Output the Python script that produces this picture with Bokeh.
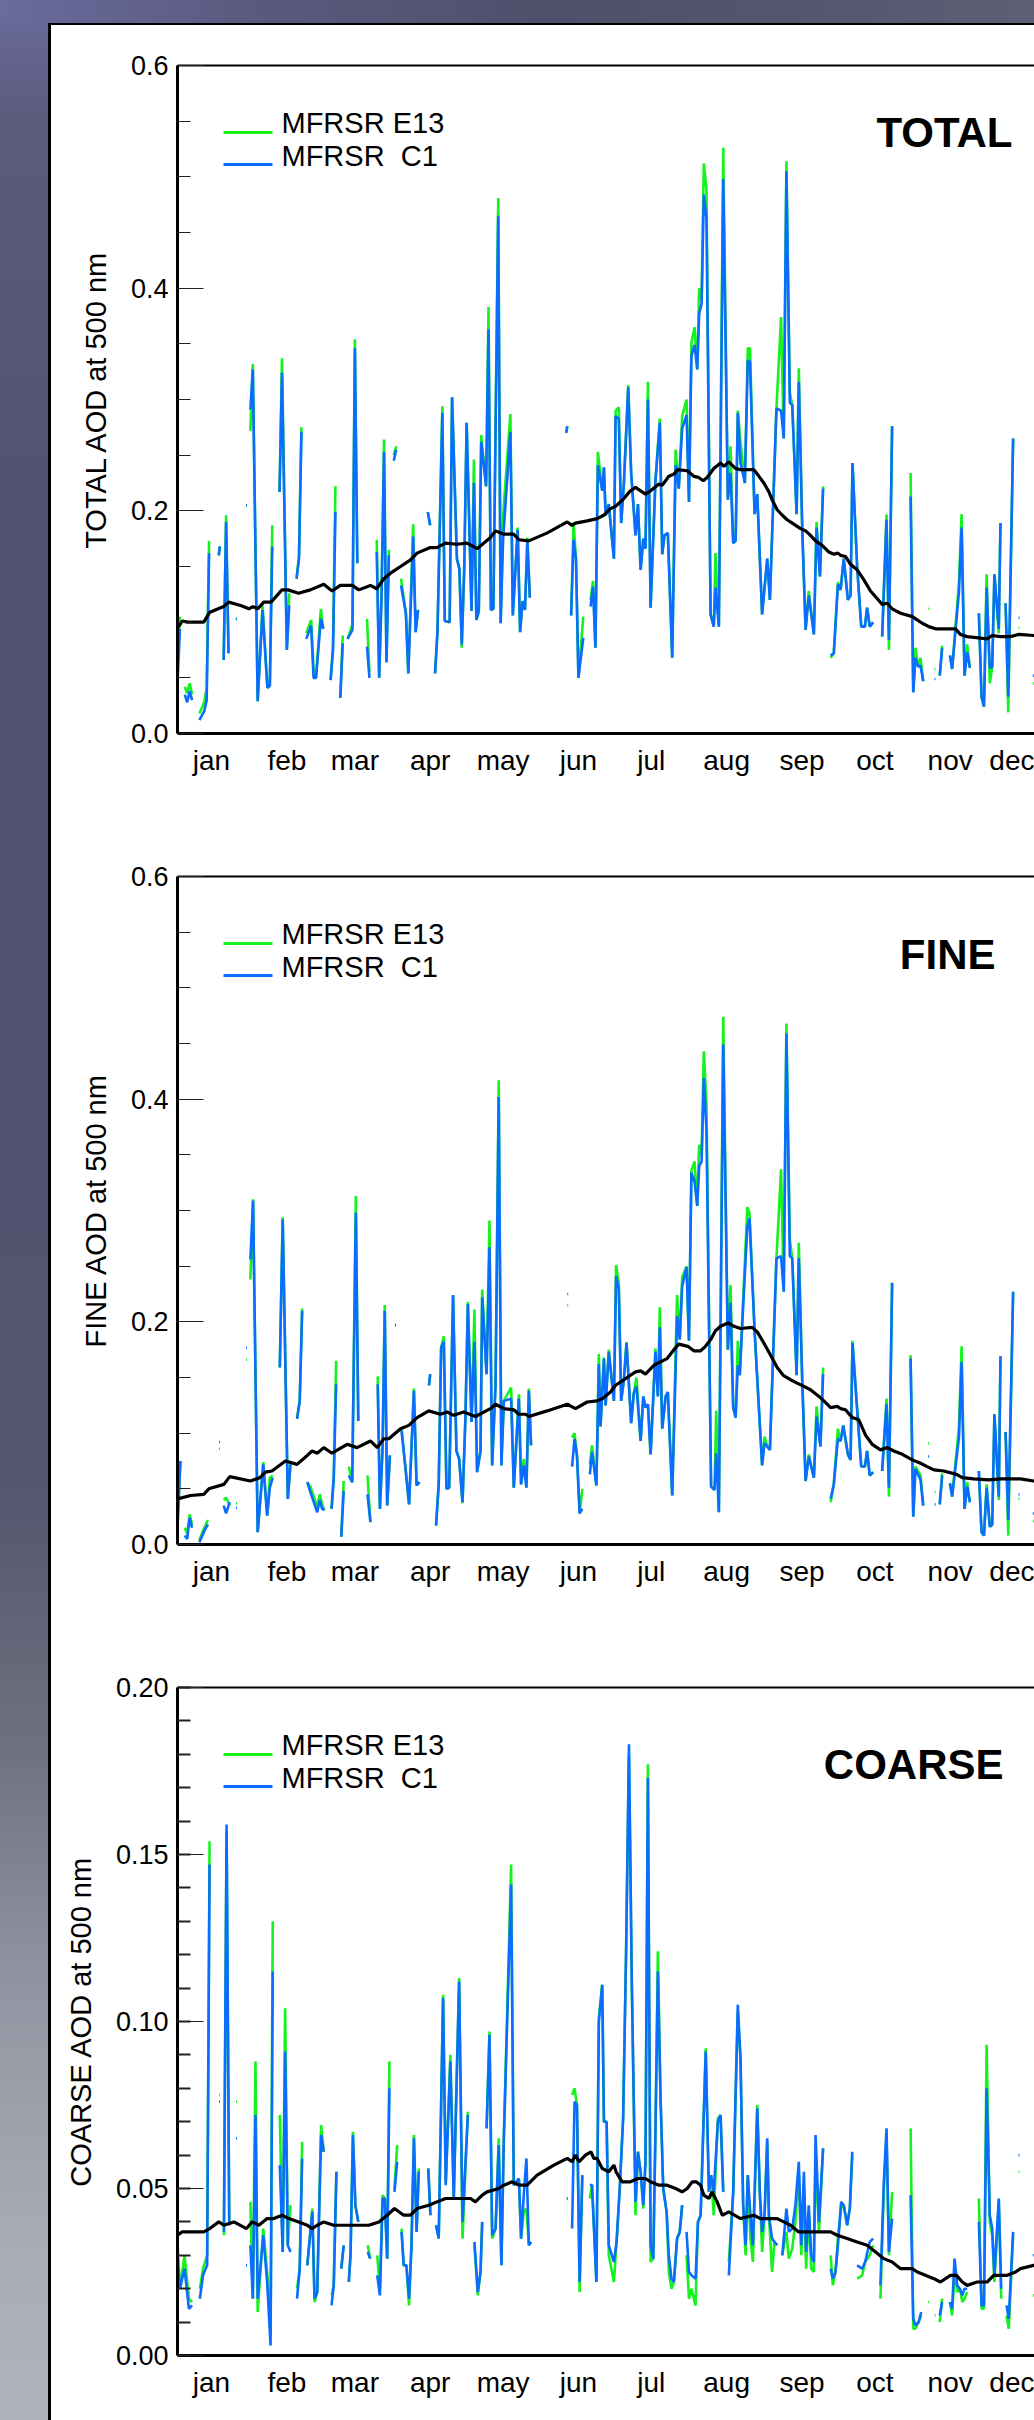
import numpy as np
from bokeh.plotting import figure
from bokeh.models import Range1d, FixedTicker, LinearAxis, PrintfTickFormatter, Spacer
from bokeh.layouts import column, row
from bokeh.embed import file_html
from bokeh.resources import INLINE
from bokeh.core.properties import value

nan = float("nan")

# ---------------- shared axis data ----------------
months = ["jan", "feb", "mar", "apr", "may", "jun", "jul", "aug", "sep", "oct", "nov", "dec"]
month_mid = [14, 45, 73, 104, 134, 165, 195, 226, 257, 287, 318, 348]
x_end = 352.7

# ---------------- TOTAL AOD (segments of daily values, day of year) ----------------
total_day = [
    [0, 1], [3, 4, 5, 6], [9, 11, 12, 13], [17, 17.4], [19, 20, 21], [24, 24.4], [28.2, 28.6],
    [30, 31, 33, 35, 37, 38, 39], [42, 43, 45, 46], [49, 50, 51], [53, 55, 56, 57, 59, 60],
    [63, 64, 65], [67, 68], [70, 72, 73, 74], [78, 79], [82, 83, 84, 85, 86, 87], [89, 90],
    [92, 94, 95, 97, 98, 99], [103, 104],
    [106, 107, 109, 110, 112, 113, 115, 116, 117, 118, 119, 121, 122, 123, 124, 125, 127, 128, 129, 130,
     132, 133, 134, 137, 138, 140, 141, 142, 143, 144, 145],
    [160, 160.4], [162, 163, 164, 165, 167],
    [170, 171, 172, 173, 174.8, 175.5, 176.2, 177.5, 179.6, 180.3,
     181.6, 182.6, 183.7, 185.5, 186.7, 188.5, 189.5, 190.6, 191.7, 192.6,
     193.6, 194.7, 196.7, 198.5, 199.5, 200.4, 201.8, 203.6, 205.0, 206.3,
     207.7, 209.5, 210.5, 211.5, 212.8, 213.9, 214.7, 215.7, 216.6, 217.7,
     219.4, 220.7, 221.4, 222.8, 224.6, 226.5, 227.6, 228.7, 229.7, 230.6,
     231.7, 233.5, 234.7, 235.6, 237.5, 238.6, 240.6, 242.7, 243.8, 246.5,
     248.4, 249.5, 250.6, 252.0, 253.0, 254.8, 255.7, 257.1, 258.5, 259.8,
     261.9, 263.0, 264.4, 265.7],
    [268.8, 270.1, 271.8, 272.9, 274.2, 275.9, 277.0, 277.8, 279.7, 281.4, 282.9, 283.8, 284.9, 286.3],
    [290.0, 291.8, 292.8, 294.1], [301.7, 302.8, 303.7, 304.8, 305.8, 306.9], [309, 309.4], [311.5, 311.9],
    [313.7, 314.7], [317.9, 318.8, 320.5, 321.6, 322.7, 323.9, 325.0, 326.1],
    [329.8, 330.9, 331.9, 333.0, 334.3, 335.3, 336.2, 338.0, 338.7], [340.8, 341.9, 343.9],
    [346.1, 346.5], [352, 352.4],
]
total_c1 = [
    [0.046, 0.094], [0.035, 0.028, 0.038, 0.030], [0.012, 0.020, 0.030, 0.162], [0.160, 0.168],
    [0.066, 0.190, 0.072], [0.103, 0.103], [0.205, 0.205],
    [0.291, 0.327, 0.029, 0.111, 0.041, 0.043, 0.168], [0.217, 0.324, 0.075, 0.115], [0.139, 0.157, 0.271],
    [0.085, 0.097, 0.050, 0.050, 0.103, 0.094], [0.048, 0.075, 0.199], [0.032, 0.081],
    [0.085, 0.093, 0.346, 0.153], [0.078, 0.050], [0.163, 0.050, 0.125, 0.253, 0.064, 0.160], [0.245, 0.255],
    [0.133, 0.108, 0.054, 0.177, 0.091, 0.111], [0.199, 0.187],
    [0.054, 0.092, 0.288, 0.101, 0.100, 0.302, 0.157, 0.148, 0.080, 0.148, 0.279, 0.110, 0.225, 0.102, 0.110,
     0.262, 0.222, 0.363, 0.111, 0.112, 0.465, 0.099, 0.174, 0.271, 0.106, 0.183, 0.091, 0.119, 0.111, 0.173, 0.122],
    [0.270, 0.276], [0.106, 0.174, 0.157, 0.050, 0.086],
    [0.114, 0.132, 0.077, 0.241, 0.218, 0.239, 0.196, 0.206, 0.157, 0.285,
     0.283, 0.189, 0.224, 0.311, 0.234, 0.178, 0.206, 0.147, 0.175, 0.166,
     0.300, 0.113, 0.227, 0.279, 0.161, 0.178, 0.180, 0.068, 0.241, 0.220,
     0.274, 0.286, 0.208, 0.339, 0.349, 0.327, 0.377, 0.386, 0.484, 0.463,
     0.107, 0.096, 0.131, 0.096, 0.498, 0.210, 0.234, 0.171, 0.173, 0.288,
     0.243, 0.225, 0.335, 0.334, 0.197, 0.215, 0.107, 0.157, 0.120, 0.292,
     0.290, 0.265, 0.505, 0.297, 0.295, 0.197, 0.316, 0.185, 0.093, 0.124,
     0.089, 0.185, 0.141, 0.220],
    [0.070, 0.072, 0.134, 0.129, 0.157, 0.120, 0.124, 0.243, 0.150, 0.096, 0.096, 0.113, 0.096, 0.100],
    [0.087, 0.192, 0.084, 0.276], [0.213, 0.037, 0.068, 0.060, 0.061, 0.047], [nan, nan], [0.049, 0.049],
    [0.052, 0.077], [0.070, 0.058, 0.100, 0.127, 0.185, 0.052, 0.073, 0.059],
    [0.108, 0.033, 0.024, 0.131, 0.059, 0.060, 0.143, 0.094, 0.189], [0.117, 0.033, 0.265],
    [0.104, 0.104], [0.052, 0.052],
]
total_e13 = [
    [0.060, 0.105], [0.042, 0.036, 0.045, 0.035], [0.018, 0.028, 0.040, 0.173], [0.160, 0.168],
    [0.066, 0.196, 0.072], [0.103, 0.103], [0.205, 0.205],
    [0.272, 0.332, 0.029, 0.115, 0.041, 0.043, 0.187], [0.217, 0.337, 0.075, 0.126], [0.139, 0.160, 0.275],
    [0.090, 0.102, 0.058, 0.050, 0.112, 0.094], [0.048, 0.078, 0.222], [0.032, 0.088],
    [0.085, 0.098, 0.354, 0.153], [0.103, 0.055], [0.174, 0.050, 0.130, 0.264, 0.064, 0.165], [0.250, 0.258],
    [0.139, 0.108, 0.054, 0.188, 0.091, 0.111], [0.199, 0.187],
    [0.054, 0.092, 0.294, 0.101, 0.100, 0.302, 0.157, 0.148, 0.077, 0.148, 0.279, 0.110, 0.246, 0.102, 0.110,
     0.268, 0.222, 0.383, 0.111, 0.112, 0.481, 0.099, 0.196, 0.287, 0.106, 0.185, 0.091, 0.119, 0.111, 0.176, 0.122],
    [0.270, 0.276], [0.106, 0.190, 0.157, 0.050, 0.105],
    [0.120, 0.137, 0.077, 0.253, 0.218, 0.239, 0.196, 0.206, 0.157, 0.290,
     0.293, 0.189, 0.224, 0.313, 0.234, 0.178, 0.206, 0.147, 0.175, 0.166,
     0.316, 0.113, 0.227, 0.283, 0.161, 0.178, 0.180, 0.068, 0.255, 0.220,
     0.285, 0.300, 0.208, 0.351, 0.365, 0.327, 0.400, 0.390, 0.512, 0.489,
     0.107, 0.096, 0.162, 0.096, 0.526, 0.210, 0.258, 0.171, 0.173, 0.290,
     0.262, 0.225, 0.346, 0.346, 0.197, 0.215, 0.107, 0.157, 0.120, 0.292,
     0.374, 0.265, 0.514, 0.306, 0.295, 0.197, 0.328, 0.185, 0.093, 0.128,
     0.089, 0.190, 0.141, 0.222],
    [0.068, 0.072, 0.136, 0.129, 0.157, 0.120, 0.124, 0.243, 0.150, 0.096, 0.096, 0.113, 0.096, 0.100],
    [0.087, 0.197, 0.075, 0.276], [0.234, 0.037, 0.077, 0.060, 0.068, 0.047], [0.112, 0.112], [0.058, 0.058],
    [0.052, 0.079], [0.070, 0.058, 0.105, 0.135, 0.197, 0.052, 0.080, 0.059],
    [0.108, 0.033, 0.024, 0.143, 0.045, 0.060, 0.143, 0.090, 0.189], [0.117, 0.019, 0.265],
    [0.095, 0.095], [0.045, 0.045],
]
total_mean_day = [0, 2, 4, 10.8, 13.3, 19, 21.1, 26, 29.4, 31, 33, 35.5, 38.5, 43, 45.5, 49.8, 54.7, 60.2, 63.6, 67,
                  72, 74.6, 79.4, 82, 84.9, 88.3, 91.8, 95.9, 98.6, 104, 106.8, 110.3, 115, 119.2, 123.3, 128.8,
                  130.9, 134.3, 138.4, 140.5, 144.6, 152, 160.4, 162.4, 163.8, 168.6, 172.7, 175.4, 178.2, 180.3,
                  183.7, 186.4, 188.5, 192.6, 194.7, 198.1, 199.5, 202.2, 204.3, 205.9, 209.8, 212.5, 214.5, 216.4,
                  218, 220.7, 223.5, 224.9, 226.9, 229.7, 231.7, 237.2, 239.3, 241.3, 243.4, 244.7, 246.8, 248.9,
                  250.9, 253, 256.4, 258.5, 260.5, 262.6, 265.3, 268.1, 270.1, 271.8, 272.9, 274.9, 277, 279.7,
                  282.5, 285.2, 288, 290, 292.1, 294.1, 297.6, 302.4, 304.4, 306.5, 309.2, 312, 320.2, 322.2, 325,
                  333.2, 335.3, 338.7, 342.8, 346.3, 352.4, 356]
total_mean = [0.095, 0.101, 0.100, 0.100, 0.109, 0.114, 0.118, 0.115, 0.112, 0.114, 0.112, 0.118, 0.118, 0.129, 0.129,
              0.126, 0.129, 0.134, 0.128, 0.133, 0.133, 0.129, 0.133, 0.130, 0.139, 0.145, 0.150, 0.156, 0.162, 0.167,
              0.167, 0.171, 0.170, 0.171, 0.166, 0.176, 0.182, 0.179, 0.179, 0.174, 0.173, 0.180, 0.190, 0.187, 0.189,
              0.191, 0.193, 0.196, 0.202, 0.204, 0.211, 0.218, 0.221, 0.215, 0.218, 0.224, 0.223, 0.231, 0.233, 0.237,
              0.236, 0.231, 0.230, 0.227, 0.230, 0.238, 0.243, 0.240, 0.244, 0.238, 0.237, 0.237, 0.231, 0.225, 0.217,
              0.210, 0.201, 0.196, 0.192, 0.189, 0.184, 0.182, 0.178, 0.173, 0.169, 0.163, 0.161, 0.162, 0.160, 0.159,
              0.152, 0.147, 0.138, 0.128, 0.121, 0.116, 0.117, 0.112, 0.108, 0.105, 0.102, 0.099, 0.096, 0.094, 0.094,
              0.089, 0.087, 0.085, 0.088, 0.087, 0.087, 0.089, 0.088, 0.088]

# ---------------- FINE AOD ----------------
fine_day = [
    [0, 1.2], [3, 4, 5, 6], [9, 11, 12.5], [17.1, 17.5], [19, 20, 21.5], [24.1, 24.5], [28.2, 28.6],
    [30, 31.1, 33, 35.3, 36.9, 38, 39.2], [42.1, 43.3, 45.4, 46.5], [49.2, 50.3, 51.3],
    [53.4, 54.7, 57.5, 58.6, 59.5, 60.5], [63.4, 64.3, 65.3], [67.4, 68.4], [70.5, 71.9, 73.4, 74.4],
    [78.2, 79.4], [82.4, 83.3, 84.4, 85.3, 86.3, 87.4], [89.5, 89.9], [92.2, 93.8, 95.3, 97.3, 98.4, 99.6],
    [103.5, 104.0],
    [106.4, 107.5, 108.5, 109.6, 110.7, 111.8, 113.4, 114.8, 115.9, 117.3,
     118.5, 119.5, 121.0, 122.2, 123.3, 124.7, 125.4, 127.2, 128.4, 129.5,
     130.9, 132.2, 133.3, 134.3, 137.3, 138.4, 140.5, 141.4, 142.5, 143.6,
     144.6, 145.5],
    [160.4, 160.8], [162.4, 163.4, 164.4, 165.5, 166.6],
    [169.7, 170.6, 172.4, 173.4, 174.1, 175.5, 176.2, 177.5, 179.6, 180.5,
     181.6, 182.6, 183.7, 184.8, 186.7, 187.8, 188.9, 190.6, 191.7, 192.6,
     193.6, 194.7, 196.7, 197.7, 198.5, 199.5, 200.9, 201.8, 203.6, 205.6,
     206.7, 207.7, 209.5, 210.5, 211.5, 212.8, 213.9, 214.7, 215.7, 216.6,
     217.7, 219.6, 221.0, 221.7, 222.8, 224.6, 226.5, 227.6, 228.7, 229.7,
     230.6, 231.4, 232.8, 234.5, 235.4, 237.5, 240.6, 241.6, 242.7, 243.8,
     246.5, 248.4, 249.5, 250.6, 252.0, 253.0, 254.8, 255.7, 257.1, 258.5,
     259.8, 261.9, 263.0, 264.6, 265.7],
    [268.8, 270.1, 271.8, 272.9, 274.0, 275.9, 277.0, 277.8, 279.7, 281.4, 282.9, 283.8, 284.9, 286.3],
    [290.0, 291.8, 292.8, 294.1], [301.7, 302.8, 303.7, 305.8, 306.9], [308.9, 309.3], [311.6, 312.0],
    [313.7, 314.7], [317.9, 318.8, 321.6, 322.7, 323.9, 325.0, 326.1],
    [329.8, 330.9, 331.9, 333.0, 334.3, 335.3, 336.2, 338.0, 338.7], [340.8, 341.9, 343.9],
    [346.1, 346.5], [352, 352.4],
]
fine_c1 = [
    [0.015, 0.075], [0.008, 0.005, 0.024, 0.015], [0.002, 0.012, 0.018], [0.092, 0.092], [0.035, 0.028, 0.038],
    [0.033, 0.033], [0.177, 0.177],
    [0.256, 0.309, 0.011, 0.072, 0.026, 0.051, 0.060], [0.159, 0.292, 0.041, 0.072], [0.113, 0.129, 0.210],
    [0.056, 0.047, 0.029, 0.040, 0.032, 0.031], [0.032, 0.060, 0.144], [0.007, 0.048], [0.062, 0.056, 0.298, 0.111],
    [0.045, 0.020], [0.144, 0.032, 0.087, 0.210, 0.035, 0.080], [0.197, 0.197], [0.102, 0.069, 0.036, 0.138, 0.053, 0.056],
    [0.143, 0.153],
    [0.017, 0.054, 0.177, 0.182, 0.050, 0.051, 0.224, 0.084, 0.077, 0.038,
     0.114, 0.216, 0.110, 0.182, 0.065, 0.084, 0.222, 0.153, 0.267, 0.071,
     0.144, 0.402, 0.071, 0.129, 0.131, 0.051, 0.131, 0.054, 0.071, 0.051,
     0.138, 0.089],
    [0.225, 0.225], [0.070, 0.095, 0.080, 0.028, 0.032],
    [0.063, 0.083, 0.053, 0.162, 0.106, 0.167, 0.125, 0.173, 0.129, 0.241,
     0.230, 0.129, 0.148, 0.181, 0.109, 0.136, 0.142, 0.093, 0.133, 0.123,
     0.126, 0.081, 0.173, 0.133, 0.195, 0.104, 0.133, 0.137, 0.044, 0.205,
     0.184, 0.232, 0.249, 0.183, 0.334, 0.326, 0.304, 0.340, 0.344, 0.419,
     0.372, 0.052, 0.049, 0.082, 0.029, 0.449, 0.175, 0.217, 0.123, 0.114,
     0.161, 0.152, 0.214, 0.285, 0.293, 0.192, 0.071, 0.091, 0.088, 0.085,
     0.257, 0.259, 0.227, 0.459, 0.259, 0.257, 0.152, 0.257, 0.148, 0.057,
     0.079, 0.060, 0.115, 0.088, 0.153],
    [0.041, 0.054, 0.095, 0.093, 0.107, 0.081, 0.076, 0.181, 0.121, 0.070, 0.070, 0.084, 0.062, 0.065],
    [0.066, 0.126, 0.051, 0.235], [0.167, 0.025, 0.068, 0.058, 0.035], [0.079, 0.079], [0.036, 0.036],
    [0.036, 0.062], [0.055, 0.043, 0.096, 0.164, 0.032, 0.052, 0.038],
    [0.066, 0.011, 0.008, 0.051, 0.016, 0.018, 0.117, 0.043, 0.169], [0.101, 0.022, 0.227],
    [0.045, 0.045], [0.028, 0.028],
]
fine_e13 = [
    [0.020, 0.075], [0.015, 0.010, 0.027, 0.018], [0.004, 0.015, 0.022], [0.086, 0.086], [0.040, 0.042, 0.035],
    [0.037, 0.037], [0.166, 0.166],
    [0.238, 0.310, 0.011, 0.074, 0.026, 0.060, 0.062], [0.159, 0.294, 0.041, 0.072], [0.113, 0.129, 0.212],
    [0.056, 0.052, 0.034, 0.045, 0.036, 0.031], [0.032, 0.060, 0.165], [0.007, 0.057], [0.070, 0.056, 0.313, 0.111],
    [0.062, 0.020], [0.151, 0.032, 0.087, 0.215, 0.035, 0.080], [0.197, 0.197], [0.105, 0.069, 0.036, 0.140, 0.053, 0.056],
    [0.143, 0.153],
    [0.017, 0.054, 0.177, 0.187, 0.050, 0.051, 0.224, 0.084, 0.077, 0.037,
     0.114, 0.218, 0.110, 0.211, 0.065, 0.084, 0.229, 0.153, 0.291, 0.071,
     0.144, 0.417, 0.071, 0.129, 0.141, 0.051, 0.135, 0.054, 0.077, 0.051,
     0.140, 0.089],
    [0.215, 0.215], [0.096, 0.100, 0.080, 0.028, 0.050],
    [0.072, 0.089, 0.053, 0.171, 0.106, 0.168, 0.125, 0.175, 0.129, 0.251,
     0.235, 0.129, 0.148, 0.182, 0.109, 0.136, 0.150, 0.093, 0.133, 0.123,
     0.126, 0.081, 0.176, 0.133, 0.213, 0.104, 0.133, 0.137, 0.044, 0.224,
     0.184, 0.240, 0.250, 0.183, 0.336, 0.344, 0.304, 0.359, 0.350, 0.443,
     0.397, 0.052, 0.049, 0.120, 0.029, 0.474, 0.175, 0.233, 0.123, 0.114,
     0.183, 0.152, 0.220, 0.303, 0.298, 0.192, 0.071, 0.097, 0.088, 0.085,
     0.257, 0.337, 0.227, 0.468, 0.274, 0.257, 0.152, 0.271, 0.148, 0.057,
     0.081, 0.060, 0.124, 0.088, 0.159],
    [0.038, 0.054, 0.104, 0.093, 0.107, 0.081, 0.076, 0.183, 0.123, 0.070, 0.070, 0.084, 0.062, 0.065],
    [0.066, 0.131, 0.043, 0.235], [0.170, 0.025, 0.070, 0.062, 0.035], [0.091, 0.091], [0.047, 0.047],
    [0.036, 0.064], [0.055, 0.043, 0.105, 0.178, 0.032, 0.056, 0.038],
    [0.066, 0.011, 0.008, 0.054, 0.016, 0.018, 0.117, 0.040, 0.169], [0.101, 0.008, 0.227],
    [0.041, 0.041], [0.021, 0.021],
]
fine_mean_day = [0, 5.4, 10.8, 12.9, 19.1, 21.5, 30, 33.9, 36.2, 38.9, 44.4, 49.2, 53.4, 55.4, 57.5, 60.2, 63.6, 69.8,
                 73.9, 79.4, 82.2, 84.9, 87, 91.8, 95.2, 98.6, 103.4, 108.2, 111, 113.7, 117.8, 122.6, 128.8, 130.9,
                 134.3, 138.4, 140.5, 143.2, 144.6, 152.1, 160.4, 163.8, 168.6, 172.7, 174.8, 178.2, 180.3, 183.7,
                 186.4, 188.5, 190.6, 192.6, 196.1, 198.8, 201.5, 204.3, 206.3, 210, 212.5, 215.3, 217.3, 219.4,
                 221.4, 223.5, 226.6, 229, 231.7, 236.5, 238.6, 241.3, 244.1, 246.8, 249.3, 252.3, 255, 257.8,
                 260.5, 264, 266, 268.8, 271.5, 272.9, 274.9, 277.7, 280.4, 283.2, 285.9, 289.3, 292.1, 294.8,
                 298.3, 302.4, 305.8, 308.5, 311.3, 315.4, 320.6, 323, 327.7, 333.9, 338.7, 346.9, 352.4, 356]
fine_mean = [0.041, 0.044, 0.045, 0.050, 0.054, 0.061, 0.057, 0.060, 0.065, 0.066, 0.075, 0.072, 0.080, 0.084, 0.082,
             0.087, 0.082, 0.090, 0.087, 0.093, 0.087, 0.095, 0.095, 0.104, 0.107, 0.114, 0.120, 0.117, 0.119, 0.116,
             0.119, 0.115, 0.122, 0.126, 0.122, 0.121, 0.117, 0.117, 0.115, 0.120, 0.126, 0.122, 0.128, 0.129, 0.131,
             0.137, 0.143, 0.148, 0.152, 0.155, 0.156, 0.153, 0.161, 0.164, 0.167, 0.175, 0.180, 0.178, 0.174, 0.174,
             0.178, 0.184, 0.192, 0.196, 0.199, 0.196, 0.194, 0.195, 0.191, 0.181, 0.170, 0.159, 0.152, 0.148, 0.145,
             0.142, 0.139, 0.133, 0.129, 0.123, 0.124, 0.122, 0.121, 0.114, 0.112, 0.098, 0.090, 0.085, 0.087, 0.084,
             0.081, 0.076, 0.073, 0.070, 0.067, 0.066, 0.063, 0.060, 0.059, 0.058, 0.059, 0.059, 0.057, 0.056]

# ---------------- COARSE AOD ----------------
coarse_day = [
    [0, 1, 2.9, 4.7, 6], [9.2, 10.5, 12.2, 13.2], [17.1, 17.5], [19.1, 20.2, 21.3], [24.1, 24.5], [28.2, 28.6],
    [30, 31, 32.1, 33, 35.3, 36.9, 38.3, 39.2], [42.1, 43.3, 44.3, 45.4, 46.5], [49.2, 50.3, 51.3],
    [53.4, 55.5, 56.4, 57.5, 59.1, 60.2], [63.4, 64.3, 65.4], [67.4, 68.4], [70.5, 71.2, 72.2, 73.2, 74.4],
    [78.3, 79.3], [82.2, 83.3, 84.4, 85.3, 86.3, 87.2], [89.3, 90.4],
    [92.2, 93.1, 94.2, 95.3, 96.3, 97.3, 98.4, 99.3], [103.2, 104.1],
    [106.4, 107.5, 109.3, 110.4, 112.3, 113.7, 115.9, 117.3, 119.5], [122.2, 123.6, 124.7, 125.4],
    [127.2, 128.4, 129.5, 130.9, 132.2, 133.3, 134.3, 137.3, 138.4, 140.5, 141.4, 142.5, 143.6, 144.6, 145.5],
    [160.2, 160.6], [162.4, 163.4, 164.4, 165.5, 166.6],
    [169.7, 170.6, 172.4, 173.4, 174.8, 175.5, 176.6, 177.5, 179.6, 180.7,
     182.0, 183.4, 184.6, 185.8, 187.0, 188.5, 189.5, 190.6, 191.7, 192.6,
     193.6, 194.7, 195.8, 196.7, 197.7, 198.8, 199.9, 201.3, 202.2, 203.3,
     204.3, 205.6, 206.7, 207.7],
    [209.5, 210.5, 211.5, 213.2, 214.2, 215.3, 217.4, 218.7, 219.6, 220.7, 222.4, 223.5, 224.6],
    [226.9, 228.7, 230.6, 231.7, 232.8, 233.8, 234.7, 235.8, 236.8, 238.6,
     239.7, 240.6, 241.6, 242.7, 243.4, 244.7, 245.7, 246.8],
    [248.9, 250.6, 251.6, 253.0, 254.3, 255.7, 256.7, 257.8, 258.7, 259.8, 260.8, 261.9, 262.6, 264.0, 265.7],
    [268.8, 269.7, 270.8, 271.8, 273.1, 274.2, 275.6, 276.7, 277.7],
    [279.7, 281.8, 283.0, 284.9, 286.3], [289.3, 290.7, 291.8, 292.8, 294.1],
    [301.7, 302.8, 303.7, 305.0, 306.1], [308.9, 309.3], [311.6, 312.0], [313.7, 314.7],
    [317.9, 318.8, 319.8, 320.9, 322.0, 323.0, 323.9, 325.0],
    [329.8, 330.9, 331.9, 333.0, 334.3, 335.3, 336.2, 338.0, 339.0], [341.2, 342.1, 343.9],
    [346.1, 346.5], [352, 352.4],
]
coarse_c1 = [
    [0.030, 0.020, 0.026, 0.014, 0.015], [0.017, 0.024, 0.027, 0.147], [0.076, 0.076], [0.037, 0.159, 0.039],
    [0.065, 0.065], [0.027, 0.027],
    [0.033, 0.017, 0.072, 0.017, 0.036, 0.022, 0.003, 0.115], [0.057, 0.031, 0.091, 0.033, 0.031], [0.017, 0.026, 0.059],
    [0.027, 0.043, 0.017, 0.019, 0.066, 0.061], [0.015, 0.021, 0.055], [0.026, 0.033], [0.022, 0.030, 0.066, 0.045, 0.040],
    [0.031, 0.029], [0.024, 0.018, 0.047, 0.047, 0.029, 0.080], [0.049, 0.058],
    [0.037, 0.027, 0.027, 0.017, 0.033, 0.065, 0.037, 0.055], [0.056, 0.042],
    [0.039, 0.035, 0.107, 0.051, 0.088, 0.047, 0.112, 0.040, 0.072], [0.034, 0.019, 0.025, 0.040],
    [0.068, 0.096, 0.036, 0.038, 0.063, 0.027, 0.065, 0.141, 0.051, 0.053, 0.035, 0.048, 0.059, 0.033, 0.034],
    [0.047, 0.047], [0.038, 0.076, 0.075, 0.022, 0.054],
    [0.051, 0.051, 0.022, 0.100, 0.111, 0.070, 0.070, 0.033, 0.028, 0.034,
     0.050, 0.071, 0.120, 0.183, 0.110, 0.046, 0.061, 0.055, 0.045, 0.058,
     0.173, 0.033, 0.029, 0.067, 0.115, 0.077, 0.050, 0.043, 0.030, 0.023,
     0.022, 0.035, 0.037, 0.045],
    [0.037, 0.025, 0.024, 0.023, 0.040, 0.042, 0.091, 0.049, 0.054, 0.049, 0.070, 0.072, 0.049],
    [0.024, 0.049, 0.105, 0.089, 0.045, 0.033, 0.054, 0.042, 0.033, 0.074,
     0.048, 0.037, 0.042, 0.065, 0.042, 0.035, 0.034, 0.033],
    [0.030, 0.044, 0.037, 0.038, 0.045, 0.058, 0.033, 0.055, 0.031, 0.045, 0.030, 0.028, 0.066, 0.040, 0.062],
    [0.026, 0.023, 0.025, 0.033, 0.046, 0.045, 0.039, 0.044, 0.061],
    [0.027, 0.026, 0.028, 0.034, 0.035], [0.021, 0.052, 0.068, 0.031, 0.041],
    [0.048, 0.011, 0.009, 0.010, 0.013], [nan, nan], [nan, nan], [0.012, 0.016],
    [0.016, 0.014, 0.029, 0.021, 0.020, 0.018, 0.020, 0.020],
    [0.040, 0.015, 0.015, 0.080, 0.042, 0.038, 0.024, 0.047, 0.020], [0.015, 0.011, 0.037],
    [0.060, 0.060], [0.030, 0.030],
]
coarse_e13 = [
    [0.034, 0.020, 0.030, 0.017, 0.016], [0.020, 0.026, 0.030, 0.154], [0.078, 0.078], [0.036, 0.157, 0.039],
    [0.076, 0.076], [0.027, 0.027],
    [0.046, 0.017, 0.088, 0.013, 0.038, 0.025, 0.006, 0.130], [0.072, 0.031, 0.104, 0.033, 0.045], [0.020, 0.026, 0.064],
    [0.027, 0.044, 0.016, 0.019, 0.069, 0.061], [0.018, 0.021, 0.055], [0.026, 0.033], [0.022, 0.030, 0.067, 0.045, 0.040],
    [0.033, 0.029], [0.030, 0.020, 0.048, 0.047, 0.029, 0.088], [0.050, 0.063],
    [0.038, 0.027, 0.027, 0.015, 0.033, 0.066, 0.037, 0.056], [0.056, 0.042],
    [0.039, 0.035, 0.108, 0.052, 0.090, 0.047, 0.113, 0.035, 0.073], [0.033, 0.018, 0.025, 0.040],
    [0.068, 0.097, 0.035, 0.038, 0.065, 0.027, 0.065, 0.147, 0.051, 0.053, 0.035, 0.043, 0.044, 0.033, 0.034],
    [0.047, 0.047], [0.078, 0.080, 0.075, 0.019, 0.054],
    [0.047, 0.051, 0.022, 0.101, 0.111, 0.070, 0.070, 0.030, 0.022, 0.034,
     0.050, 0.071, 0.120, 0.180, 0.110, 0.042, 0.061, 0.055, 0.044, 0.058,
     0.177, 0.028, 0.029, 0.067, 0.121, 0.077, 0.050, 0.043, 0.025, 0.020,
     0.022, 0.035, 0.037, 0.045],
    [0.030, 0.017, 0.020, 0.015, 0.040, 0.042, 0.092, 0.049, 0.054, 0.042, 0.071, 0.072, 0.049],
    [0.028, 0.049, 0.103, 0.089, 0.045, 0.030, 0.054, 0.035, 0.028, 0.075,
     0.048, 0.031, 0.042, 0.064, 0.042, 0.025, 0.034, 0.033],
    [0.030, 0.037, 0.029, 0.032, 0.040, 0.055, 0.030, 0.050, 0.026, 0.043, 0.026, 0.025, 0.060, 0.037, 0.062],
    [0.030, 0.021, 0.025, 0.035, 0.044, 0.045, 0.039, 0.044, 0.060],
    [0.023, 0.024, 0.028, 0.030, 0.033], [0.017, 0.050, 0.066, 0.030, 0.049],
    [0.068, 0.008, 0.008, 0.010, 0.012], [0.016, 0.016], [0.012, 0.012], [0.010, 0.017],
    [0.016, 0.012, 0.025, 0.019, 0.020, 0.016, 0.017, 0.019],
    [0.047, 0.014, 0.014, 0.093, 0.040, 0.036, 0.022, 0.046, 0.017], [0.012, 0.008, 0.036],
    [0.055, 0.055], [0.018, 0.018],
]
coarse_mean_day = [0, 1.9, 4, 10.8, 13.3, 17, 19.1, 23.2, 28.4, 30.7, 33.5, 36.9, 39.6, 43.1, 45.8, 49.9, 53.4, 55.4,
                   57.5, 60.2, 64.3, 71.2, 78.7, 82.9, 86.3, 89.3, 93.1, 95.9, 98.6, 103.4, 106.9, 110.3, 113.7,
                   117.1, 120.6, 122.6, 125.4, 127.4, 132.2, 134.3, 137.7, 140.5, 143.9, 148, 154.9, 160.4, 162.4,
                   163.8, 165.2, 167.9, 170.2, 171.3, 172.7, 174.8, 177.5, 179.6, 180.5, 183, 186.4, 189.5, 192.6,
                   194.7, 198.1, 201.5, 205, 207.7, 209.8, 211.8, 213.5, 215.3, 216.6, 218.7, 220, 222.1, 224.2,
                   226.9, 231.7, 237.2, 239.9, 246.8, 249.5, 252.3, 255.7, 260.5, 268.8, 271.5, 275.6, 279.7, 283.8,
                   287.3, 290.7, 294.1, 297.6, 302.4, 304.5, 307.8, 311.3, 314, 318.1, 320.6, 323, 325, 329.1, 333.2,
                   335.9, 341.5, 344.9, 346.9, 352.4, 356]
coarse_mean = [0.036, 0.037, 0.037, 0.037, 0.038, 0.040, 0.039, 0.040, 0.038, 0.040, 0.039, 0.041, 0.041, 0.042, 0.041,
               0.040, 0.039, 0.038, 0.039, 0.040, 0.039, 0.039, 0.039, 0.040, 0.042, 0.044, 0.042, 0.042, 0.044, 0.045,
               0.046, 0.047, 0.047, 0.047, 0.047, 0.046, 0.048, 0.049, 0.050, 0.051, 0.052, 0.051, 0.051, 0.054, 0.057,
               0.059, 0.058, 0.060, 0.058, 0.060, 0.061, 0.059, 0.059, 0.056, 0.055, 0.057, 0.055, 0.052, 0.052, 0.053,
               0.053, 0.052, 0.051, 0.051, 0.050, 0.049, 0.050, 0.052, 0.052, 0.051, 0.048, 0.047, 0.049, 0.046, 0.042,
               0.043, 0.041, 0.042, 0.041, 0.041, 0.040, 0.039, 0.037, 0.037, 0.037, 0.036, 0.035, 0.034, 0.033, 0.031,
               0.029, 0.028, 0.026, 0.026, 0.025, 0.024, 0.023, 0.022, 0.024, 0.024, 0.022, 0.021, 0.022, 0.022, 0.024,
               0.024, 0.025, 0.026, 0.027, 0.028]

# ---------------- styling / layout ----------------
FONT = "Liberation Sans"
GREEN = "#16f21c"
BLUE = "#0b6cff"
FRAME_LEFT = 177          # page x of the plot frame's left edge
FRAME_H = 668             # plot frame height in px
PX_PER_DAY = (1034 - FRAME_LEFT) / x_end


def day_at(px):
    return (px - FRAME_LEFT) / PX_PER_DAY


def val_at(ymax, off):
    return ymax * (1 - off / FRAME_H)


def make_panel(name, ylabel, ymax, major, minor, fmt, days, c1, e13, mday, mval,
               height, top, bottom, title_right, title_mid, thick_minor=False):
    p = figure(width=983, height=height, x_range=Range1d(0, x_end), y_range=Range1d(0, ymax),
               output_backend="svg", toolbar_location=None,
               min_border_left=FRAME_LEFT - 51, min_border_right=0,
               min_border_top=top, min_border_bottom=bottom,
               outline_line_color=None, background_fill_color="white", border_fill_color="white")
    p.grid.visible = False

    ya = p.yaxis[0]
    ya.ticker = FixedTicker(ticks=major, minor_ticks=minor)
    ya.formatter = PrintfTickFormatter(format=fmt)
    ya.axis_line_width = 3
    ya.axis_line_color = "black"
    ya.major_tick_in = 26
    ya.major_tick_out = 0
    ya.minor_tick_in = 13
    ya.minor_tick_out = 0
    ya.major_tick_line_color = "#222222"
    ya.minor_tick_line_color = "#222222"
    ya.major_tick_line_width = 1
    ya.minor_tick_line_width = 2 if thick_minor else 1
    ya.major_label_text_font = FONT
    ya.major_label_text_font_size = "27px"
    ya.major_label_text_color = "black"
    ya.major_label_standoff = 9
    ya.axis_label = ylabel
    ya.axis_label_text_font = FONT
    ya.axis_label_text_font_size = "29px"
    ya.axis_label_text_font_style = "normal"
    ya.axis_label_text_color = "black"
    ya.axis_label_standoff = 16

    xa = p.xaxis[0]
    xa.ticker = FixedTicker(ticks=month_mid)
    xa.major_label_overrides = {m: n for m, n in zip(month_mid, months)}
    xa.major_tick_line_color = None
    xa.minor_tick_line_color = None
    xa.axis_line_width = 3
    xa.axis_line_color = "black"
    xa.major_label_text_font = FONT
    xa.major_label_text_font_size = "28px"
    xa.major_label_text_color = "black"
    xa.major_label_standoff = 5

    top_axis = LinearAxis(ticker=FixedTicker(ticks=[]), axis_line_width=2, axis_line_color="black",
                          major_tick_line_color=None, minor_tick_line_color=None,
                          major_label_text_font_size="0px")
    p.add_layout(top_axis, "above")

    xs = [np.array(s, dtype=float) for s in days]
    p.multi_line(xs=xs, ys=[np.array(s, dtype=float) for s in e13], line_color=GREEN, line_width=2.6)
    p.multi_line(xs=xs, ys=[np.array(s, dtype=float) for s in c1], line_color=BLUE, line_width=2.6)
    p.line(mday, mval, line_color="black", line_width=3.2)

    # legend (drawn manually to match the original layout)
    lx = [day_at(223), day_at(272)]
    p.line(lx, [val_at(ymax, 67)] * 2, line_color=GREEN, line_width=3)
    p.line(lx, [val_at(ymax, 99)] * 2, line_color=BLUE, line_width=3)
    p.text(x=[day_at(281)] * 2, y=[val_at(ymax, 57.5), val_at(ymax, 90)],
           text=["MFRSR E13", "MFRSR\u00a0 C1"], text_font=value(FONT), text_font_size="29px",
           text_baseline="middle", text_align="left", text_color="black")

    # panel title
    p.text(x=[day_at(title_right)], y=[val_at(ymax, title_mid)], text=[name], text_font=value(FONT),
           text_font_size="42px", text_font_style="bold", text_baseline="middle",
           text_align="right", text_color="black")
    return p


p1 = make_panel("TOTAL", "TOTAL AOD at 500 nm", 0.6, [0, 0.2, 0.4, 0.6],
                [round(0.05 * i, 2) for i in range(13)], "%.1f",
                total_day, total_c1, total_e13, total_mean_day, total_mean,
                height=809, top=40, bottom=101, title_right=1012, title_mid=67)
p2 = make_panel("FINE", "FINE AOD at 500 nm", 0.6, [0, 0.2, 0.4, 0.6],
                [round(0.05 * i, 2) for i in range(13)], "%.1f",
                fine_day, fine_c1, fine_e13, fine_mean_day, fine_mean,
                height=811, top=42, bottom=101, title_right=995, title_mid=78)
p3 = make_panel("COARSE", "COARSE AOD at 500 nm", 0.2, [0, 0.05, 0.1, 0.15, 0.2],
                [round(0.01 * i, 2) for i in range(21)], "%.2f",
                coarse_day, coarse_c1, coarse_e13, coarse_mean_day, coarse_mean,
                height=775, top=42, bottom=65, title_right=1003, title_mid=77, thick_minor=True)

black = {"background-color": "black"}
panel = column(
    Spacer(width=986, height=2, styles=black),
    row(Spacer(width=3, height=2395, styles=black),
        column(p1, p2, p3, spacing=0, styles={"background-color": "white"}), spacing=0),
    spacing=0, styles={"background-color": "white"},
)
root = column(
    Spacer(width=1034, height=23),
    row(Spacer(width=48, height=2397), panel, spacing=0),
    spacing=0, width=1034, height=2420,
    styles={"background": "linear-gradient(to right, #6b6b9d 0px, #5a5a80 250px, #4f4f6b 550px, "
                          "#55556e 800px, #5e5e75 1034px) 0 0 / 100% 23px no-repeat, "
                          "linear-gradient(to bottom, #6b6b9d 0px, #5b5b7d 120px, #525270 500px, "
                          "#535371 1200px, #56566f 1500px, #70717f 1750px, #9497a3 2000px, #a9acb5 2250px, "
                          "#b0b3bb 2420px)"},
)

open("out.html", "w").write(file_html(root, INLINE, title="AOD at 500 nm"))
